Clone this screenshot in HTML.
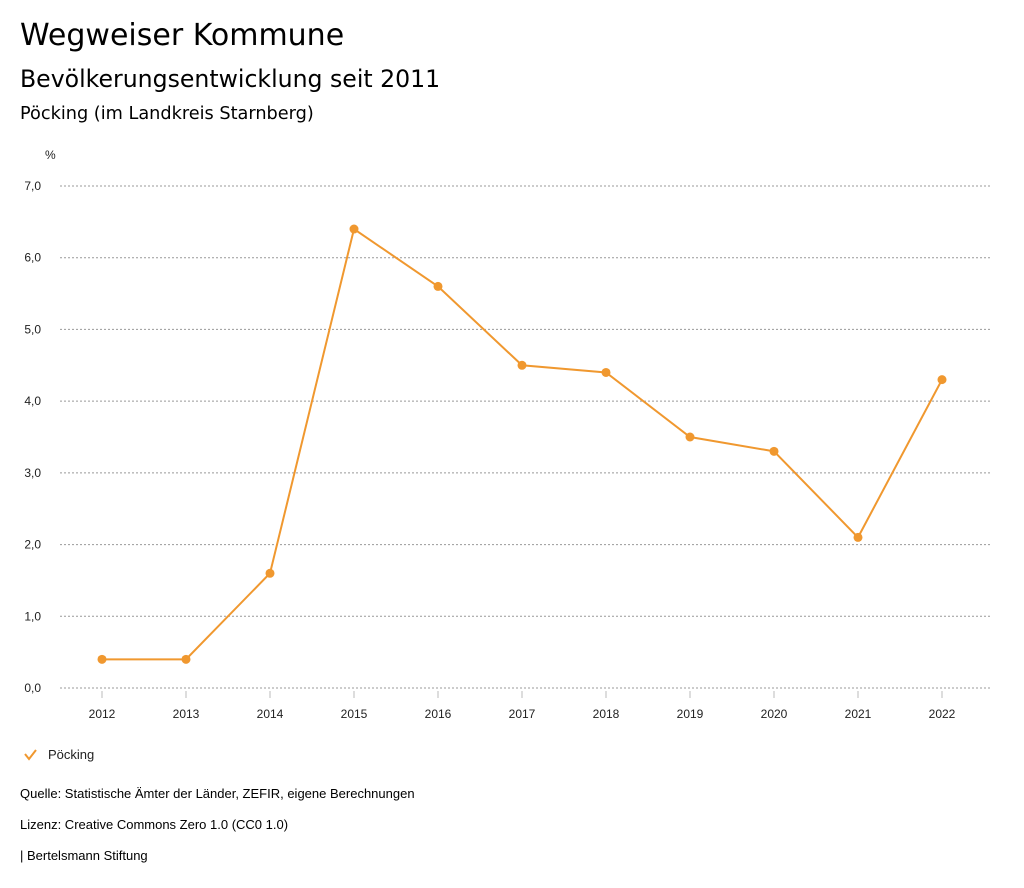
<!DOCTYPE html>
<html><head><meta charset="utf-8"><style>
body{margin:0;background:#fff;font-family:"Liberation Sans","DejaVu Sans",sans-serif;color:#000}
.t{position:absolute;white-space:nowrap}
.h{font-family:"DejaVu Sans","Liberation Sans",sans-serif}
</style></head><body>
<div style="position:relative;width:1024px;height:888px;overflow:hidden">
<div class="t h" style="left:20px;top:18px;font-size:30px">Wegweiser Kommune</div>
<div class="t h" style="left:20px;top:65px;font-size:23.6px">Bevölkerungsentwicklung seit 2011</div>
<div class="t h" style="left:20px;top:104px;font-size:17.7px">Pöcking (im Landkreis Starnberg)</div>
<svg id="chart" width="1024" height="888" style="position:absolute;left:0;top:0" font-family="Liberation Sans, sans-serif"></svg>
<div class="t" style="left:20px;top:786px;font-size:13px">Quelle: Statistische Ämter der Länder, ZEFIR, eigene Berechnungen</div>
<div class="t" style="left:20px;top:817px;font-size:13px">Lizenz: Creative Commons Zero 1.0 (CC0 1.0)</div>
<div class="t" style="left:20px;top:848px;font-size:13px">| Bertelsmann Stiftung</div>
</div>
<script>
const years=["2012","2013","2014","2015","2016","2017","2018","2019","2020","2021","2022"];
const values=[0.4,0.4,1.6,6.4,5.6,4.5,4.4,3.5,3.3,2.1,4.3];
const yTicks=[0,1,2,3,4,5,6,7];
const yTickLabels=["0,0","1,0","2,0","3,0","4,0","5,0","6,0","7,0"];
const NS="http://www.w3.org/2000/svg";
const svg=document.getElementById('chart');
const color="#f0982f";
function y(v){return 688-v*(502/7);}
function x(i){return 102+i*84;}
function mk(t,a,p){const e=document.createElementNS(NS,t);for(const k in a)e.setAttribute(k,a[k]);(p||svg).appendChild(e);return e;}
let u=mk('text',{x:45,y:159,'font-size':12,fill:'#222'});u.textContent='%';


yTicks.forEach((v,i)=>{
 const l=mk('line',{x1:60,x2:990,y1:y(v),y2:y(v),stroke:'#999','stroke-dasharray':'2,2','stroke-width':1});
 
 
 const t=mk('text',{x:41,y:y(v)+4,'font-size':12,'text-anchor':'end',fill:'#222'});
 t.textContent=yTickLabels[i];
 
 
});
years.forEach((yr,i)=>{
 const tk=mk('line',{x1:x(i),x2:x(i),y1:691,y2:698,stroke:'#bbb'});
 
 
 const t=mk('text',{x:x(i),y:718,'font-size':12,'text-anchor':'middle',fill:'#222'});
 t.textContent=yr;
 
 
});
const pl=mk('polyline',{points:values.map((v,i)=>x(i)+','+y(v)).join(' '),fill:'none',stroke:color,'stroke-width':2});


values.forEach((v,i)=>{
 const c=mk('circle',{cx:x(i),cy:y(v),r:4.5,fill:color});
 
 
});
const chk=mk('polyline',{points:'25,754 29,759 36,750',fill:'none',stroke:color,'stroke-width':2});


const lt=mk('text',{x:48,y:759,'font-size':13,fill:'#222'});
lt.textContent='Pöcking';


</script>
</body></html>
